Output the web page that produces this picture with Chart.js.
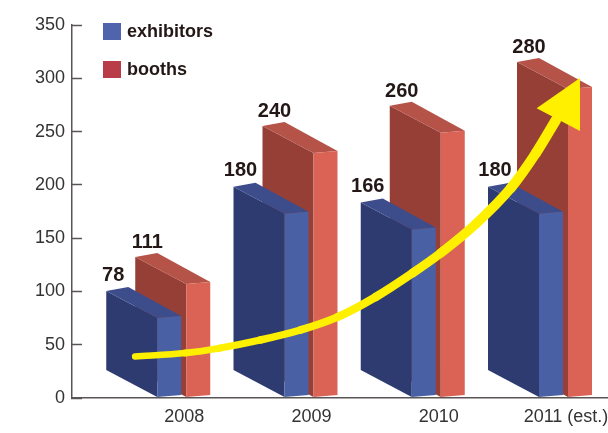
<!DOCTYPE html>
<html>
<head>
<meta charset="utf-8">
<title>exhibitors and booths</title>
<script src="https://cdn.jsdelivr.net/npm/chart.js@4"></script>
<style>
	html, body { margin: 0; padding: 0; background: #fff; }
	canvas { display: block; }
</style>
</head>
<body>
<canvas id="chart" width="608" height="433"></canvas>
<script>
var categories = ["2008", "2009", "2010", "2011 (est.)"]
var yTicks = [0, 50, 100, 150, 200, 250, 300, 350]

// printed numbers above the bars
var exhibitorLabels = [78, 180, 166, 180]
var boothLabels = [111, 240, 260, 280]

// bar heights read against the axis (front corner), the drawing is not exact to its labels
var exhibitors = [75, 173, 158, 173]
var booths = [107, 230, 249, 290]

// yellow arrow, in axis units
var arrowX = [-0.386, 0.008, 0.283, 0.598, 0.913, 1.205, 1.504, 1.795, 2.016, 2.291, 2.567, 2.764, 2.921]
var arrowY = [38.9, 42.2, 46.9, 54.4, 63.8, 76, 94.8, 117.3, 136.1, 163.3, 197.1, 229.9, 260.9]
var headX = [3.11, 2.769, 3.11]
var headY = [300.3, 271.8, 250.5]

var INK = "#231815"
var BLUE = { left: "#2e3b71", top: "#3d4d8c", right: "#4a60a4", key: "#4f64ad" }
var RED = { left: "#963f36", top: "#b55349", right: "#da6356", key: "#b83d49" }

function poly(ctx, pts, color) {
	ctx.beginPath()
	ctx.moveTo(pts[0][0], pts[0][1])
	for (var i = 1; i < pts.length; i++) ctx.lineTo(pts[i][0], pts[i][1])
	ctx.closePath()
	ctx.fillStyle = color
	ctx.fill()
}

// one box, the bar element gives its place and height
function box(ctx, bar, c) {
	var fx = bar.x - 12.5, y = bar.y, b = bar.base - 0.5
	poly(ctx, [[fx - 51, y - 27], [fx, y], [fx, b], [fx - 51, b - 27]], c.left)
	poly(ctx, [[fx - 51, y - 27], [fx - 29, y - 31], [fx + 24, y - 2], [fx, y]], c.top)
	poly(ctx, [[fx, y], [fx + 24, y - 2], [fx + 24, b - 2], [fx, b]], c.right)
}

var boxes3d = {
	id: "boxes3d",
	beforeDatasetsDraw: function (chart) {
		var ctx = chart.ctx
		var blue = chart.getDatasetMeta(0).data
		var red = chart.getDatasetMeta(1).data
		for (var i = 0; i < categories.length; i++) {
			box(ctx, red[i], RED)
			box(ctx, blue[i], BLUE)
		}
		ctx.font = "bold 20px 'Liberation Sans'"
		ctx.fillStyle = INK
		ctx.textAlign = "center"
		ctx.textBaseline = "middle"
		for (var j = 0; j < categories.length; j++) {
			ctx.fillText(String(exhibitorLabels[j]), blue[j].x - 12.5 - 44, blue[j].y - 43)
			ctx.fillText(String(boothLabels[j]), red[j].x - 12.5 - 39, red[j].y - 41)
		}
		// legend
		ctx.textAlign = "left"
		ctx.font = "bold 18px 'Liberation Sans'"
		ctx.fillStyle = BLUE.key
		ctx.fillRect(103, 23, 18, 17)
		ctx.fillStyle = RED.key
		ctx.fillRect(103, 61, 18, 17)
		ctx.fillStyle = INK
		ctx.fillText(chart.data.datasets[0].label, 127, 32)
		ctx.fillText(chart.data.datasets[1].label, 127, 70)
	},
	afterDatasetsDraw: function (chart) {
		var x = chart.scales.x, y = chart.scales.y
		var pts = headX.map(function (v, i) {
			return [x.getPixelForValue(v), y.getPixelForValue(headY[i])]
		})
		poly(chart.ctx, pts, "#fff000")
	}
}

var chart = new Chart(document.getElementById("chart"), {
	data: {
		datasets: [{
			type: "bar",
			label: "exhibitors",
			data: exhibitors.map(function (v, i) { return { x: i, y: v } }),
			backgroundColor: "transparent",
			barThickness: 29
		}, {
			type: "bar",
			label: "booths",
			data: booths.map(function (v, i) { return { x: i, y: v } }),
			backgroundColor: "transparent",
			barThickness: 29
		}, {
			type: "line",
			label: "trend",
			data: arrowX.map(function (v, i) { return { x: v, y: arrowY[i] } }),
			borderColor: "#fff000",
			borderWidth: 6.5,
			borderCapStyle: "round",
			pointRadius: 0,
			cubicInterpolationMode: "monotone",
			segment: {
				borderWidth: function (ctx) { return 6.5 + ctx.p0DataIndex * 0.35 }
			}
		}]
	},
	options: {
		responsive: false,
		animation: false,
		layout: { padding: { top: 25, left: 0, right: 0, bottom: 0 } },
		plugins: {
			legend: { display: false },
			tooltip: { enabled: false }
		},
		scales: {
			x: {
				type: "linear",
				offset: false,
				min: -0.882,
				max: 3.33,
				grid: { display: false, drawTicks: false },
				border: { color: "#5a5554", width: 1.5 },
				ticks: {
					autoSkip: false,
					maxRotation: 0,
					padding: 8,
					color: "#333",
					font: { family: "'Liberation Sans'", size: 18 },
					callback: function (value) { return categories[value] }
				},
				afterBuildTicks: function (scale) {
					scale.ticks = categories.map(function (c, i) { return { value: i } })
				},
				afterFit: function (scale) {
					scale.height = 35
					scale.paddingLeft = 0
					scale.paddingRight = 0
				}
			},
			y: {
				min: 0,
				max: 350,
				grid: { drawOnChartArea: false, tickLength: -10, color: "#5a5554", tickWidth: 1.5 },
				border: { color: "#5a5554", width: 1.5 },
				ticks: {
					padding: 17,
					color: "#333",
					font: { family: "'Liberation Sans'", size: 18 }
				},
				afterBuildTicks: function (scale) {
					scale.ticks = yTicks.map(function (v) { return { value: v } })
				},
				afterFit: function (scale) {
					scale.width = 72
					scale.paddingTop = 0
					scale.paddingBottom = 0
				}
			}
		}
	},
	plugins: [boxes3d]
})
</script>
</body>
</html>
